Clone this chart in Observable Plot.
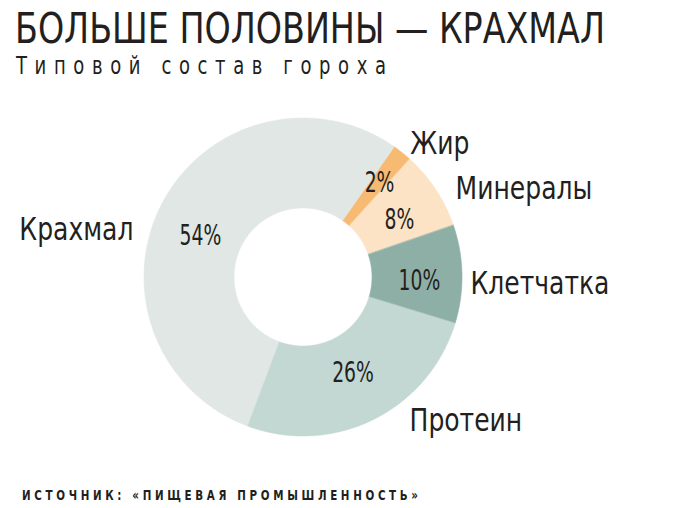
<!DOCTYPE html>
<html><head><meta charset="utf-8">
<script src="https://cdn.jsdelivr.net/npm/d3@7"></script>
<script src="https://cdn.jsdelivr.net/npm/@observablehq/plot@0.6"></script>
<style>
body{margin:0;background:#fff;}
#wrap{position:relative;width:674px;height:508px;overflow:hidden;font-family:"Liberation Sans Narrow","DejaVu Sans Condensed",sans-serif;color:#231f20;}
.t,.s,.f{position:absolute;white-space:nowrap;transform-origin:0 0;}
.t{left:15px;top:6.6px;font-size:43px;line-height:43px;}
.s{left:16px;top:53px;font-size:25px;line-height:25px;}
.f{left:22px;top:489px;font-size:13.5px;line-height:13.5px;font-weight:bold;}
#chart{position:absolute;left:0;top:95px;}
</style></head><body>
<div id="wrap">
<span class="t" id="title">БОЛЬШЕ ПОЛОВИНЫ — КРАХМАЛ</span>
<span class="s" id="sub">Типовой состав гороха</span>
<div id="chart"></div>
<span class="f" id="foot">ИСТОЧНИК: «ПИЩЕВАЯ ПРОМЫШЛЕННОСТЬ»</span>
</div>
<script>
// data
const categories = ["Жир", "Минералы", "Клетчатка", "Протеин", "Крахмал"];
const shares = [2, 8, 10, 26, 54];

// styling
const colors = ["#f6ba72", "#fde3c6", "#8eafa6", "#c4d8d3", "#e0e7e5"];
const FONT = '"Liberation Sans Narrow","DejaVu Sans Condensed",sans-serif';
const rad = d => d * Math.PI / 180;
const R0 = 69, R1 = 159, RM = (R0 + R1) / 2, RL = 172;
// small label nudges (pixels: right, down)
const pctNudge = {"Жир": [5.4, -5], "Минералы": [1.3, 5.2], "Клетчатка": [2.5, 6.2], "Протеин": [-0.3, -6.1], "Крахмал": [-1.7, 11.6]};
const nameNudge = {"Жир": [0, 1], "Минералы": [9, 6], "Клетчатка": [-4.5, 10], "Протеин": [30.6, -11], "Крахмал": [-17.4, 32.5]};

const arcs = d3.pie().sort(null).value(d => d).startAngle(rad(35)).endAngle(rad(395))(shares);

const ring = [];
const pct = [];
const names = [];
arcs.forEach((a, i) => {
  const name = categories[i];
  const n = Math.max(2, Math.ceil((a.endAngle - a.startAngle) / rad(0.5)));
  for (let k = 0; k <= n; k++) {
    const t = a.startAngle + (a.endAngle - a.startAngle) * k / n;
    ring.push({name, x: R1 * Math.sin(t), y: R1 * Math.cos(t)});
  }
  for (let k = n; k >= 0; k--) {
    const t = a.startAngle + (a.endAngle - a.startAngle) * k / n;
    ring.push({name, x: R0 * Math.sin(t), y: R0 * Math.cos(t)});
  }
  const mid = (a.startAngle + a.endAngle) / 2;
  const pn = pctNudge[name], nn = nameNudge[name];
  pct.push({name, text: shares[i] + "%", x: RM * Math.sin(mid) + pn[0], y: RM * Math.cos(mid) - pn[1]});
  names.push({name, x: RL * Math.sin(mid) + nn[0], y: RL * Math.cos(mid) - nn[1], right: Math.sin(mid) >= 0});
});

const chart = Plot.plot({
  width: 674,
  height: 365,
  margin: 0,
  x: {domain: [-302.5, 371.5], axis: null},
  y: {domain: [-183.5, 181.5], axis: null},
  color: {domain: categories, range: colors},
  style: {fontFamily: FONT, background: "transparent", overflow: "visible"},
  marks: [
    Plot.line(ring, {x: "x", y: "y", z: "name", fill: "name", stroke: "name", strokeWidth: 0.6, curve: "linear-closed"}),
    Plot.text(pct, {x: "x", y: "y", text: "text", fontSize: 29, fill: "#231f20", fontFamily: FONT}),
    Plot.text(names.filter(d => d.right), {x: "x", y: "y", text: "name", textAnchor: "start", fontSize: 32, fill: "#231f20", fontFamily: FONT}),
    Plot.text(names.filter(d => !d.right), {x: "x", y: "y", text: "name", textAnchor: "end", fontSize: 32, fill: "#231f20", fontFamily: FONT})
  ]
});
document.getElementById("chart").appendChild(chart);

// condense SVG text glyphs horizontally (the reference uses a condensed face)
d3.select(chart).selectAll("g[font-size]").each(function () {
  const fs = +this.getAttribute("font-size");
  const s = fs === 29 ? 0.72 : 0.87;
  d3.select(this).selectAll("text").attr("transform", function () {
    return (this.getAttribute("transform") || "") + ` scale(${s},1)`;
  });
});

// fit HTML texts to the reference widths
function fitScale(el, target) {
  const w = el.getBoundingClientRect().width;
  el.style.transform = `scaleX(${target / w})`;
}
function fitSpaced(el, target, s) {
  el.style.letterSpacing = "0px";
  const w0 = el.getBoundingClientRect().width;
  const n = el.textContent.length;
  const ls = (target / s - w0) / (n - 1);
  el.style.letterSpacing = ls + "px";
  el.style.transform = `scaleX(${s})`;
}
fitScale(document.getElementById("title"), 590);
fitSpaced(document.getElementById("sub"), 370, 0.8);
fitSpaced(document.getElementById("foot"), 396, 0.85);
</script>
</body></html>
